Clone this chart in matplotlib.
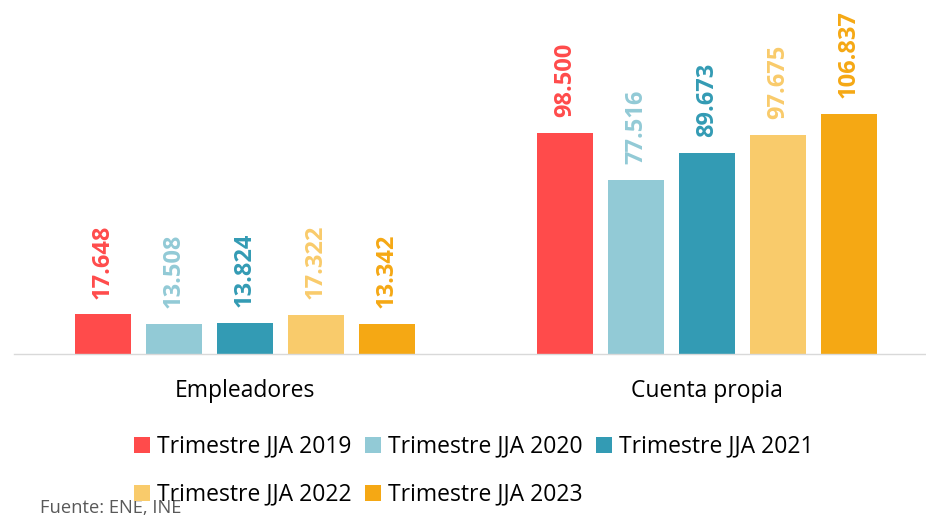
import matplotlib
matplotlib.use('Agg')
import matplotlib.pyplot as plt
import numpy as np

plt.rcParams['font.family'] = ['Open Sans', 'DejaVu Sans']

# datos del grafico
categorias = ['Empleadores', 'Cuenta propia']
series = ['Trimestre JJA 2019', 'Trimestre JJA 2020', 'Trimestre JJA 2021',
          'Trimestre JJA 2022', 'Trimestre JJA 2023']
valores_2019 = [17.648, 98.500]
valores_2020 = [13.508, 77.516]
valores_2021 = [13.824, 89.673]
valores_2022 = [17.322, 97.675]
valores_2023 = [13.342, 106.837]
colores = ['#FF4B4B', '#92CAD6', '#339BB4', '#F9CB6B', '#F5A814']

datos = [valores_2019, valores_2020, valores_2021, valores_2022, valores_2023]

fig = plt.figure(figsize=(9.26, 5.16), dpi=100)
# ejes en pixeles: izquierda 14, derecha 926, base 354, arriba 0
ax = fig.add_axes([14/926, (516-354)/516, 912/926, 354/516])

x = np.arange(len(categorias))
ancho = 0.121
paso = 0.1537
for i, (vals, col, nombre) in enumerate(zip(datos, colores, series)):
    pos = x + (i - 2) * paso
    ax.bar(pos, vals, width=ancho, color=col, label=nombre)
    for px, v in zip(pos, vals):
        txt = '{:.3f}'.format(v)
        ax.text(px, v + 7.0, txt, rotation=90, ha='center', va='bottom',
                color=col, fontsize=17, fontweight='bold')

ax.set_xlim(-0.5, 1.474)
ax.set_ylim(0, 157.7)
for s in ['top', 'right', 'left']:
    ax.spines[s].set_visible(False)
ax.spines['bottom'].set_color('#D9D9D9')
ax.spines['bottom'].set_linewidth(1.0)
ax.set_yticks([])
ax.set_xticks(x)
ax.set_xticklabels(categorias, fontsize=16.5)
ax.tick_params(axis='x', length=0, pad=18)

# orden por filas: 2019 2020 2021 / 2022 2023
handles, labels = ax.get_legend_handles_labels()
orden = [0, 3, 1, 4, 2]
leg = fig.legend([handles[k] for k in orden], [labels[k] for k in orden],
                 loc='upper left', bbox_to_anchor=(113/926, 1 - 414/516),
                 ncol=3, frameon=False, fontsize=16.5, handlelength=0.7, handleheight=0.7,
                 handletextpad=0.3, columnspacing=0.6, labelspacing=1.05)

fig.text(40/926, 1 - 508/516, 'Fuente: ENE, INE', fontsize=13.2, color='#595959',
         ha='left', va='center')

fig.savefig('out.png', dpi=100)
